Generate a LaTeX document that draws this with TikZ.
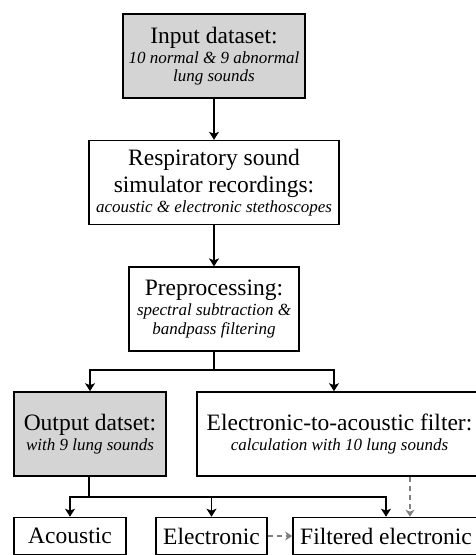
\documentclass[tikz,border=0pt]{standalone}
\usepackage{fontspec}
\setmainfont{Liberation Serif}
\usetikzlibrary{positioning,arrows.meta,calc}
\newcommand{\subtxt}[1]{{\fontsize{17}{19}\selectfont\itshape #1}}
\tikzset{
  box/.style={rectangle, draw=black, line width=1.6pt, align=center, inner sep=1pt, minimum height=84pt, font=\fontsize{23.5}{27}\selectfont},
  data/.style={box, fill=black!17},
  leaf/.style={box, minimum height=37pt},
  connect/.style={-{Stealth[length=8pt,width=10pt,inset=2pt]}, line width=1.2pt},
  dashconn/.style={-{Stealth[length=7pt,width=9pt,inset=2pt]}, dash pattern=on 5pt off 4pt, draw=black!50, line width=1.2pt}
}

\begin{document}
\begin{tikzpicture}[x=1pt,y=-1pt]
    \path[use as bounding box, clip] (0,0) rectangle (476,555);
    \node[data, minimum width=182pt] (input) at (214,56) {Input dataset:\\[-7pt] \subtxt{10 normal \& 9 abnormal}\\[-8.5pt] \subtxt{lung sounds}};
    \node[box, minimum width=250pt] (recording) [below=41pt of input] {Respiratory sound\\ simulator recordings:\\[-7pt] \subtxt{acoustic \& electronic stethoscopes}};
    \node[box, minimum width=170pt] (preproc) [below=41pt of recording] {Preprocessing:\\[-7pt] \subtxt{spectral subtraction \&}\\[-8.5pt] \subtxt{bandpass filtering}};
    \node[data, minimum width=152pt] (output) at (90,434) {Output datset:\\[-7pt] \subtxt{with 9 lung sounds}};
    % right edges run past the page, as in the original
    \node[box, minimum width=293pt] (filter) at (343.5,434) {Electronic-to-acoustic filter:\hspace*{8pt}\\[-7pt] \subtxt{calculation with 10 lung sounds}\hspace*{8pt}};
    \node[leaf, minimum width=112pt] (acoustic) at (70,536) {Acoustic};
    \node[leaf, minimum width=111pt] (electronic) at (211.5,536) {Electronic};
    \node[leaf, minimum width=197pt] (filtered) at (391.5,536) {Filtered electronic\hspace*{11pt}};

    \coordinate (split1) at (214,370);
    \coordinate (split2) at (89,497);

    \path (input) edge [connect] (recording)
          (recording) edge [connect] (preproc);
    \draw [line width=1.2pt] (preproc) -- (split1);
    \draw [connect] (split1) -| (output);
    \draw [connect] (split1) -| ([xshift=-9.5pt]filter.north);
    \draw [line width=1.2pt] (output.south -| split2) -- (split2);
    \draw [connect] (split2) -| (acoustic);
    \draw [connect] (split2) -| (electronic);
    \draw [connect] (split2) -| ([xshift=-5.5pt]filtered.north);

    \draw [dashconn] (electronic) -- (filtered);
    \draw [dashconn] ([xshift=66.5pt]filter.south) -- ([xshift=66.5pt]filter.south |- filtered.north);
\end{tikzpicture}
\end{document}
